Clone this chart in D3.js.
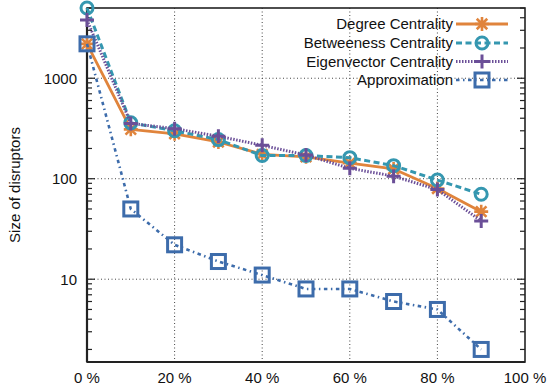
<!DOCTYPE html>
<html>
<head>
<meta charset="utf-8">
<script src="https://cdn.jsdelivr.net/npm/d3@7"></script>
<style>
  html, body { margin: 0; padding: 0; background: #fff; }
  svg { display: block; font-family: "Liberation Sans", Arial, sans-serif; }
</style>
</head>
<body>
<svg id="chart" width="548" height="387"></svg>
<script>
// ---- data ----
const xValues = [0, 10, 20, 30, 40, 50, 60, 70, 80, 90];
const degree      = [2200, 310, 280, 232, 175, 165, 143, 125, 80, 47];
const betweeness  = [5000, 360, 300, 245, 170, 170, 162, 135, 97, 70];
const eigenvector = [3800, 355, 315, 265, 215, 172, 127, 106, 78, 38];
const approximation = [2200, 50, 22, 15, 11, 8, 8, 6, 5, 2];
const seriesNames = ["Degree Centrality", "Betweeness Centrality", "Eigenvector Centrality", "Approximation"];
const xTickValues = [0, 20, 40, 60, 80, 100];
const xTickLabels = ["0 %", "20 %", "40 %", "60 %", "80 %", "100 %"];
const yTickValues = [10, 100, 1000];
const yLabel = "Size of disruptors";

// ---- styles ----
const styles = [
  { color: "#e0843c", dash: null, width: 2.8, marker: "asterisk" },
  { color: "#3597b0", dash: "6,3.5", width: 3, marker: "circle" },
  { color: "#6b4f98", dash: "1.5,1.5", width: 3, marker: "plus" },
  { color: "#3d6cab", dash: "3.5,3.5,1.5,3.5", width: 2.6, marker: "square" }
];
const allSeries = [degree, betweeness, eigenvector, approximation];

const svg = d3.select("#chart");
const L = 87, R = 525, T = 8, B = 362;

const x = d3.scaleLinear().domain([0, 100]).range([L, R]);
const y = d3.scaleLog().domain([1.5, 5000]).range([B, T]);

// grid
const grid = svg.append("g").attr("stroke", "#444").attr("stroke-width", 1).attr("stroke-dasharray", "1,2.5");
xTickValues.filter(v => v > 0 && v < 100).forEach(v => {
  grid.append("line").attr("x1", x(v)).attr("x2", x(v)).attr("y1", T).attr("y2", B);
});
yTickValues.forEach(v => {
  grid.append("line").attr("x1", L).attr("x2", R).attr("y1", y(v)).attr("y2", y(v));
});

// minor/major ticks on left and right
const minorTicks = [];
[1, 10, 100, 1000].forEach(d => { for (let k = 1; k <= 9; k++) { const v = d * k; if (v >= 1.5 && v <= 5000) minorTicks.push(v); } });
const tickG = svg.append("g").attr("stroke", "#222").attr("stroke-width", 1.2);
minorTicks.forEach(v => {
  const major = yTickValues.includes(v);
  const len = major ? 8 : 5;
  tickG.append("line").attr("x1", L).attr("x2", L + len).attr("y1", y(v)).attr("y2", y(v));
  tickG.append("line").attr("x1", R).attr("x2", R - len).attr("y1", y(v)).attr("y2", y(v));
});

// border
svg.append("rect").attr("x", L).attr("y", T).attr("width", R - L).attr("height", B - T)
  .attr("fill", "none").attr("stroke", "#222").attr("stroke-width", 1.6);
svg.append("line").attr("x1", L).attr("x2", L).attr("y1", T).attr("y2", B).attr("stroke", "#222").attr("stroke-width", 2.2);
svg.append("line").attr("x1", L).attr("x2", R).attr("y1", B).attr("y2", B).attr("stroke", "#222").attr("stroke-width", 2.2);

// tick labels
svg.append("g").selectAll("text").data(yTickValues).join("text")
  .attr("x", L - 10).attr("y", d => y(d)).attr("dy", "0.36em")
  .attr("text-anchor", "end").attr("font-size", 15).attr("fill", "#111").text(d => d);
svg.append("g").selectAll("text").data(xTickValues).join("text")
  .attr("x", d => x(d)).attr("y", 383)
  .attr("text-anchor", "middle").attr("font-size", 15).attr("fill", "#111")
  .text((d, i) => xTickLabels[i]);

svg.append("text").attr("transform", `translate(20,185) rotate(-90)`)
  .attr("text-anchor", "middle").attr("font-size", 15).attr("fill", "#111").text(yLabel);

// markers
function drawMarker(g, type, cx, cy, color) {
  if (type === "asterisk") {
    const s = 7;
    const p = `M${cx - s},${cy}L${cx + s},${cy}M${cx},${cy - s}L${cx},${cy + s}` +
      `M${cx - s * 0.75},${cy - s * 0.75}L${cx + s * 0.75},${cy + s * 0.75}M${cx - s * 0.75},${cy + s * 0.75}L${cx + s * 0.75},${cy - s * 0.75}`;
    g.append("path").attr("d", p).attr("stroke", color).attr("stroke-width", 2.6).attr("fill", "none");
  } else if (type === "circle") {
    g.append("circle").attr("cx", cx).attr("cy", cy).attr("r", 6)
      .attr("fill", "none").attr("stroke", color).attr("stroke-width", 3);
  } else if (type === "plus") {
    const s = 7;
    g.append("path").attr("d", `M${cx - s},${cy}L${cx + s},${cy}M${cx},${cy - s}L${cx},${cy + s}`)
      .attr("stroke", color).attr("stroke-width", 3).attr("fill", "none");
  } else if (type === "square") {
    const s = 7;
    g.append("rect").attr("x", cx - s).attr("y", cy - s).attr("width", 2 * s).attr("height", 2 * s)
      .attr("fill", "none").attr("stroke", color).attr("stroke-width", 3);
  }
}

const line = d3.line().x((d, i) => x(xValues[i])).y(d => y(d));
allSeries.forEach((vals, si) => {
  const st = styles[si];
  const g = svg.append("g");
  g.append("path").datum(vals).attr("d", line).attr("fill", "none")
    .attr("stroke", st.color).attr("stroke-width", st.width)
    .attr("stroke-dasharray", st.dash).attr("stroke-linejoin", "round");
  vals.forEach((v, i) => drawMarker(g, st.marker, x(xValues[i]), y(v), st.color));
});

// legend
const legendRows = [24, 43, 61.5, 80];
seriesNames.forEach((name, i) => {
  const st = styles[i];
  const g = svg.append("g");
  const yy = legendRows[i];
  g.append("text").attr("x", 453).attr("y", yy).attr("dy", "0.36em")
    .attr("text-anchor", "end").attr("font-size", 15).attr("fill", "#111").text(name);
  g.append("line").attr("x1", 456).attr("x2", 508).attr("y1", yy).attr("y2", yy)
    .attr("stroke", st.color).attr("stroke-width", st.width).attr("stroke-dasharray", st.dash);
  drawMarker(g, st.marker, 482, yy, st.color);
});
</script>
</body>
</html>
